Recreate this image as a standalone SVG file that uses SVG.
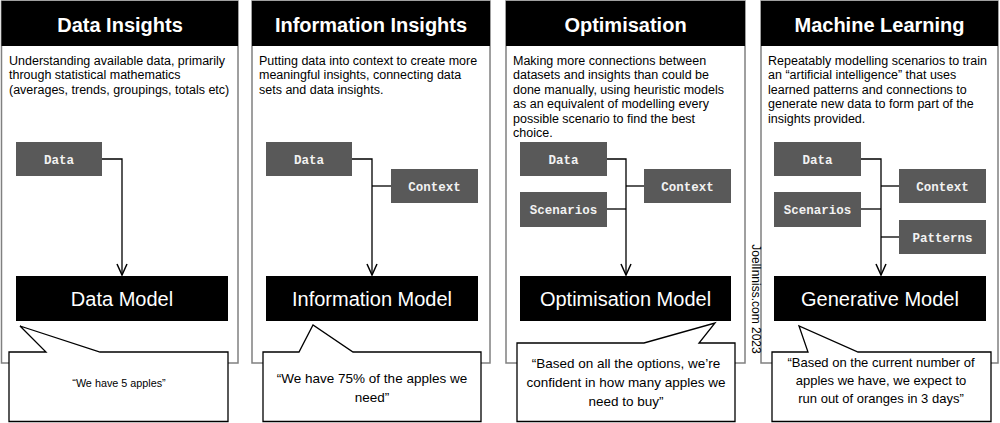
<svg xmlns="http://www.w3.org/2000/svg" width="1000" height="423" viewBox="0 0 1000 423">
<defs>
<style>
.panel{fill:#fff;stroke:#808080;stroke-width:1.5}
.head{fill:#000}
.title{font-family:"Liberation Sans",Arial,sans-serif;font-weight:bold;font-size:20px;fill:#fff;text-anchor:middle}
.desc{font-family:"Liberation Sans",Arial,sans-serif;font-size:12.5px;fill:#000}
.box{fill:#595959}
.boxt{font-family:"Liberation Mono","Courier New",monospace;font-weight:bold;font-size:12.5px;fill:#f2f2f2;text-anchor:middle}
.model{fill:#000}
.modelt{font-family:"Liberation Sans",Arial,sans-serif;font-size:20px;fill:#fff;text-anchor:middle}
.call{fill:#fff;stroke:#000;stroke-width:1.3}
.callt{font-family:"Liberation Sans",Arial,sans-serif;font-size:13.5px;fill:#000;text-anchor:middle}
.conn{fill:none;stroke:#000;stroke-width:1.3}
.wm{font-family:"Liberation Sans",Arial,sans-serif;font-size:12px;fill:#000;text-anchor:middle}
</style>
<marker id="arr" viewBox="-13 -7 14 14" refX="0" refY="0" markerWidth="14" markerHeight="14" markerUnits="userSpaceOnUse" orient="auto">
<path d="M-11,-5 L0,0 L-11,5" fill="none" stroke="#000" stroke-width="1.5"/>
</marker>
</defs>
<rect width="1000" height="423" fill="#fff"/>

<g id="panel-data-insights">
<rect class="panel" x="1.5" y="1" width="236.5" height="362"/>
<rect class="head" x="1.5" y="1" width="236.5" height="45"/>
<text class="title" x="120" y="32">Data Insights</text>
<text class="desc" x="9" y="64.5">Understanding available data, primarily</text>
<text class="desc" x="9" y="79">through statistical mathematics</text>
<text class="desc" x="9" y="93.6">(averages, trends, groupings, totals etc)</text>
</g>
<g id="panel-information-insights">
<rect class="panel" x="252" y="1" width="238" height="362"/>
<rect class="head" x="252" y="1" width="238" height="45"/>
<text class="title" x="371" y="32">Information Insights</text>
<text class="desc" x="259" y="64.5">Putting data into context to create more</text>
<text class="desc" x="259" y="79">meaningful insights, connecting data</text>
<text class="desc" x="259" y="93.6">sets and data insights.</text>
</g>
<g id="panel-optimisation">
<rect class="panel" x="506" y="1" width="239" height="362"/>
<rect class="head" x="506" y="1" width="239" height="45"/>
<text class="title" x="625.5" y="32">Optimisation</text>
<text class="desc" x="513" y="64.5">Making more connections between</text>
<text class="desc" x="513" y="79">datasets and insights than could be</text>
<text class="desc" x="513" y="93.6">done manually, using heuristic models</text>
<text class="desc" x="513" y="108.2">as an equivalent of modelling every</text>
<text class="desc" x="513" y="122.8">possible scenario to find the best</text>
<text class="desc" x="513" y="137.4">choice.</text>
</g>
<g id="panel-machine-learning">
<rect class="panel" x="761" y="1" width="237" height="362"/>
<rect class="head" x="761" y="1" width="237" height="45"/>
<text class="title" x="879.5" y="32">Machine Learning</text>
<text class="desc" x="768" y="64.5">Repeatably modelling scenarios to train</text>
<text class="desc" x="768" y="79">an “artificial intelligence” that uses</text>
<text class="desc" x="768" y="93.6">learned patterns and connections to</text>
<text class="desc" x="768" y="108.2">generate new data to form part of the</text>
<text class="desc" x="768" y="122.8">insights provided.</text>
</g>

<g id="connectors">
<path class="conn" d="M102,159 H122 V275" marker-end="url(#arr)"/>
<path class="conn" d="M352,159 H372 V275" marker-end="url(#arr)"/>
<path class="conn" d="M391,186 H372"/>
<path class="conn" d="M607,159 H626 V275" marker-end="url(#arr)"/>
<path class="conn" d="M607,209 H626"/>
<path class="conn" d="M644,186 H626"/>
<path class="conn" d="M861,159 H881 V275" marker-end="url(#arr)"/>
<path class="conn" d="M861,209 H881"/>
<path class="conn" d="M899,186 H881"/>
<path class="conn" d="M899,237 H881"/>
</g>

<g id="p1-data"><rect class="box" x="16" y="142" width="86" height="34"/><text class="boxt" x="59" y="163.5">Data</text></g>
<g id="p1-model"><rect class="model" x="16" y="276" width="212" height="45"/><text class="modelt" x="122" y="305.5">Data Model</text></g>
<g id="p1-callout"><path class="call" d="M9,352 L46,352 L20,326 L100,352 L228,352 L228,421.5 L9,421.5 Z"/><text class="callt" x="119" y="387" style="font-size:10.8px">“We have 5 apples”</text></g>

<g id="p2-data"><rect class="box" x="266" y="142" width="86" height="34"/><text class="boxt" x="309" y="163.5">Data</text></g>
<g id="p2-context"><rect class="box" x="391" y="169" width="87" height="34"/><text class="boxt" x="434.5" y="190.5">Context</text></g>
<g id="p2-model"><rect class="model" x="266" y="276" width="212" height="45"/><text class="modelt" x="372" y="305.5">Information Model</text></g>
<g id="p2-callout"><path class="call" d="M263,352 L299,352 L313,325 L353,352 L481,352 L481,421.5 L263,421.5 Z"/><text class="callt" x="372" y="382.5">“We have 75% of the apples we</text><text class="callt" x="372" y="401.5">need”</text></g>

<g id="p3-data"><rect class="box" x="520" y="142" width="87" height="34"/><text class="boxt" x="563.5" y="163.5">Data</text></g>
<g id="p3-scenarios"><rect class="box" x="520" y="192" width="87" height="35"/><text class="boxt" x="563.5" y="213.5">Scenarios</text></g>
<g id="p3-context"><rect class="box" x="644" y="169" width="87" height="34"/><text class="boxt" x="687.5" y="190.5">Context</text></g>
<g id="p3-model"><rect class="model" x="520" y="276" width="211" height="45"/><text class="modelt" x="625.5" y="305.5">Optimisation Model</text></g>
<g id="p3-callout"><path class="call" d="M517,343 L644,343 L715,323 L699,343 L735,343 L735,421.5 L517,421.5 Z"/><text class="callt" x="626" y="367.5">“Based on all the options, we’re</text><text class="callt" x="626" y="386.5">confident in how many apples we</text><text class="callt" x="626" y="405.5">need to buy”</text></g>

<g id="p4-data"><rect class="box" x="774" y="142" width="87" height="34"/><text class="boxt" x="817.5" y="163.5">Data</text></g>
<g id="p4-scenarios"><rect class="box" x="774" y="192" width="87" height="35"/><text class="boxt" x="817.5" y="213.5">Scenarios</text></g>
<g id="p4-context"><rect class="box" x="899" y="169" width="87" height="34"/><text class="boxt" x="942.5" y="190.5">Context</text></g>
<g id="p4-patterns"><rect class="box" x="899" y="220" width="87" height="34"/><text class="boxt" x="942.5" y="241.5">Patterns</text></g>
<g id="p4-model"><rect class="model" x="774" y="276" width="212" height="45"/><text class="modelt" x="880" y="305.5">Generative Model</text></g>
<g id="p4-callout"><path class="call" d="M772,352 L808,352 L799,326 L858,352 L991,352 L991,421.5 L772,421.5 Z"/><text class="callt" x="881" y="366.5" style="font-size:13px">“Based on the current number of</text><text class="callt" x="881" y="384.5" style="font-size:13px">apples we have, we expect to</text><text class="callt" x="881" y="402.5" style="font-size:13px">run out of oranges in 3 days”</text></g>

<g id="watermark"><text class="wm" transform="translate(752,299) rotate(90)">JoelInniss.com 2023</text></g>
</svg>
